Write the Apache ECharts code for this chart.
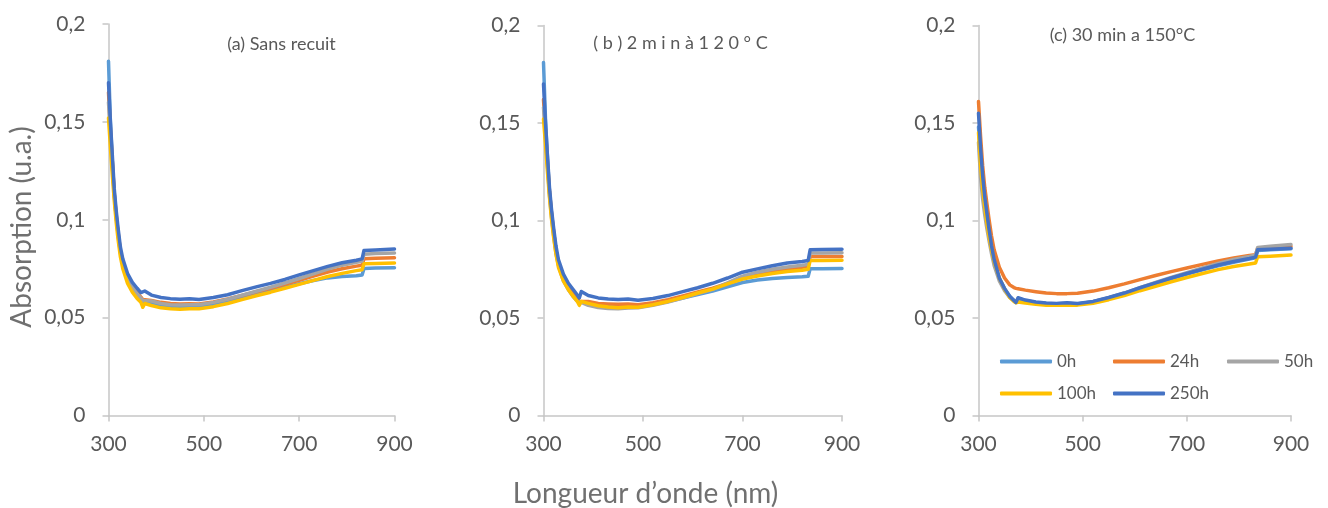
<!DOCTYPE html>
<html><head><meta charset="utf-8">
<script src="https://cdn.jsdelivr.net/npm/echarts@6/dist/echarts.min.js"></script>
<style>html,body{margin:0;padding:0;background:#fff}#c{width:1328px;height:508px}</style>
</head><body><div id="c"></div>
<script>
const wavelengths = [300,304,308,312,316,320,325,330,340,350,360,368,372,376,390,410,430,450,470,490,520,550,580,610,640,670,700,730,760,790,820,832,836,860,900];

// Panel (a) Sans recuit
const a0h   = [0.181,0.150,0.130,0.113,0.102,0.093,0.083,0.077,0.0695,0.0650,0.0620,0.0598,0.0580,0.0590,0.0572,0.0560,0.0555,0.0553,0.0556,0.0556,0.0566,0.0582,0.0601,0.0620,0.0638,0.0656,0.0673,0.0690,0.0703,0.0710,0.0714,0.0718,0.0751,0.0753,0.0755];
const a24h  = [0.165,0.146,0.130,0.114,0.103,0.094,0.084,0.078,0.0705,0.0660,0.0628,0.0605,0.0592,0.0598,0.0588,0.0578,0.0572,0.0570,0.0571,0.0570,0.0580,0.0595,0.0613,0.0632,0.0650,0.0670,0.0690,0.0712,0.0733,0.0750,0.0763,0.0768,0.0801,0.0803,0.0806];
const a50h  = [0.160,0.143,0.128,0.113,0.102,0.093,0.084,0.0775,0.0700,0.0655,0.0622,0.0600,0.0588,0.0595,0.0585,0.0572,0.0566,0.0564,0.0566,0.0566,0.0578,0.0594,0.0614,0.0635,0.0655,0.0677,0.0700,0.0724,0.0748,0.0768,0.0783,0.0788,0.0824,0.0827,0.0830];
const a100h = [0.152,0.137,0.123,0.110,0.099,0.090,0.081,0.075,0.0675,0.0630,0.0598,0.0578,0.0553,0.0572,0.0562,0.0550,0.0545,0.0543,0.0545,0.0545,0.0556,0.0572,0.0592,0.0612,0.0630,0.0650,0.0670,0.0690,0.0710,0.0726,0.0740,0.0745,0.0775,0.0777,0.0779];
const a250h = [0.170,0.150,0.133,0.116,0.105,0.096,0.086,0.080,0.0725,0.0680,0.0650,0.0628,0.0618,0.0636,0.0615,0.0603,0.0597,0.0594,0.0597,0.0593,0.0603,0.0617,0.0638,0.0657,0.0675,0.0695,0.0718,0.0740,0.0762,0.0780,0.0793,0.0800,0.0843,0.0846,0.0850];

// Panel (b) 2 min à 120°C
const b0h   = [0.181,0.152,0.132,0.115,0.104,0.095,0.085,0.078,0.0705,0.0660,0.0622,0.0598,0.0582,0.0592,0.0578,0.0567,0.0562,0.0560,0.0563,0.0561,0.0570,0.0585,0.0602,0.0620,0.0638,0.0660,0.0682,0.0695,0.0703,0.0708,0.0711,0.0714,0.0752,0.0753,0.0754];
const b24h  = [0.162,0.146,0.130,0.115,0.104,0.095,0.085,0.078,0.0705,0.0660,0.0625,0.0598,0.0585,0.0595,0.0585,0.0575,0.0572,0.0570,0.0572,0.0568,0.0578,0.0594,0.0613,0.0633,0.0653,0.0678,0.0705,0.0722,0.0738,0.0750,0.0760,0.0765,0.0816,0.0815,0.0815];
const b50h  = [0.158,0.143,0.128,0.113,0.102,0.093,0.083,0.077,0.0690,0.0645,0.0608,0.0585,0.0575,0.0580,0.0565,0.0554,0.0549,0.0548,0.0551,0.0553,0.0565,0.0582,0.0602,0.0625,0.0647,0.0680,0.0715,0.0735,0.0750,0.0762,0.0770,0.0775,0.0833,0.0833,0.0834];
const b100h = [0.152,0.139,0.125,0.112,0.101,0.092,0.083,0.076,0.0690,0.0645,0.0610,0.0585,0.0565,0.0585,0.0575,0.0563,0.0556,0.0553,0.0556,0.0555,0.0568,0.0585,0.0605,0.0628,0.0648,0.0675,0.0700,0.0715,0.0728,0.0738,0.0745,0.0750,0.0795,0.0795,0.0796];
const b250h = [0.170,0.150,0.133,0.117,0.106,0.097,0.087,0.080,0.0725,0.0678,0.0645,0.0618,0.0603,0.0636,0.0615,0.0603,0.0598,0.0595,0.0597,0.0591,0.0600,0.0615,0.0635,0.0655,0.0678,0.0705,0.0735,0.0752,0.0768,0.0782,0.0790,0.0795,0.0850,0.0851,0.0853];

// Panel (c) 30 min a 150°C
const c0h   = [0.148,0.133,0.120,0.110,0.102,0.095,0.086,0.079,0.0700,0.0648,0.0610,0.0590,0.0580,0.0600,0.0590,0.0580,0.0575,0.0573,0.0576,0.0572,0.0583,0.0603,0.0626,0.0652,0.0677,0.0702,0.0725,0.0747,0.0768,0.0786,0.0802,0.0809,0.0846,0.0850,0.0855];
const c24h  = [0.161,0.143,0.128,0.117,0.109,0.101,0.092,0.085,0.0760,0.0705,0.0670,0.0656,0.0652,0.0650,0.0643,0.0635,0.0628,0.0625,0.0625,0.0627,0.0638,0.0655,0.0675,0.0697,0.0718,0.0738,0.0756,0.0775,0.0793,0.0808,0.0820,0.0825,0.0858,0.0862,0.0868];
const c50h  = [0.140,0.122,0.111,0.103,0.096,0.090,0.083,0.077,0.0690,0.0640,0.0605,0.0590,0.0585,0.0590,0.0585,0.0577,0.0572,0.0570,0.0572,0.0572,0.0584,0.0604,0.0628,0.0655,0.0682,0.0708,0.0733,0.0757,0.0780,0.0800,0.0815,0.0822,0.0862,0.0868,0.0877];
const c100h = [0.145,0.128,0.116,0.107,0.099,0.092,0.085,0.079,0.0705,0.0650,0.0605,0.0585,0.0578,0.0582,0.0577,0.0570,0.0566,0.0565,0.0567,0.0566,0.0576,0.0594,0.0615,0.0640,0.0663,0.0686,0.0708,0.0728,0.0748,0.0764,0.0777,0.0782,0.0814,0.0817,0.0823];
const c250h = [0.155,0.137,0.123,0.112,0.104,0.096,0.087,0.080,0.0705,0.0652,0.0612,0.0590,0.0580,0.0604,0.0592,0.0582,0.0577,0.0575,0.0578,0.0574,0.0585,0.0605,0.0628,0.0655,0.0680,0.0705,0.0728,0.0750,0.0772,0.0790,0.0805,0.0812,0.0850,0.0853,0.0858];

const seriesNames = ['0h','24h','50h','100h','250h'];
const seriesColors = ['#5B9BD5','#ED7D31','#A5A5A5','#FFC000','#4472C4'];
const panelData = [[a0h,a24h,a50h,a100h,a250h],[b0h,b24h,b50h,b100h,b250h],[c0h,c24h,c50h,c100h,c250h]];
const panelTitles = ['(a) Sans recuit','( b ) 2 m i n à 1 2 0 ° C','(c) 30 min a 150°C'];
const xTicks = [300,500,700,900];
const yTickLabels = ['0','0,05','0,1','0,15','0,2'];
const xTitle = 'Longueur d\u2019onde (nm)';
const yTitle = 'Absorption (u.a.)';

const FONT = 'Lato, "Open Sans", sans-serif';
const AX = '#C6C6C6';
const TXT = '#595959';

const grids = [
  {left:108.5, top:24,   width:286,   height:391.5},
  {left:543.5, top:25.5, width:298.5, height:390},
  {left:978.5, top:25.5, width:312.5, height:390}
];
const titlePos = [[281.5,44],[680.5,43],[1122.5,35]];

const xAxes = [], yAxes = [], series = [], graphics = [];
grids.forEach((g, i) => {
  xAxes.push({
    type:'value', gridIndex:i, min:300, max:900,
    axisLine:{show:true, lineStyle:{color:AX, width:1.5}},
    axisTick:{show:true, length:6, lineStyle:{color:AX, width:1.5}, customValues:xTicks},
    axisLabel:{customValues:xTicks, margin:18, fontSize:21, color:TXT, fontFamily:FONT},
    splitLine:{show:false}
  });
  yAxes.push({
    type:'value', gridIndex:i, min:0, max:0.2, interval:0.05,
    axisLine:{show:true, lineStyle:{color:AX, width:1.5}},
    axisTick:{show:true, length:6, lineStyle:{color:AX, width:1.5}},
    axisLabel:{margin:23, fontSize:21, color:TXT, fontFamily:FONT,
      formatter: v => yTickLabels[Math.round(v/0.05)]},
    splitLine:{show:false}
  });
  panelData[i].forEach((vals, k) => {
    series.push({
      type:'line', name:seriesNames[k], xAxisIndex:i, yAxisIndex:i,
      data: wavelengths.map((w, j) => [w, vals[j]]),
      symbol:'none', showSymbol:false, smooth:false,
      lineStyle:{color:seriesColors[k], width:3.5, join:'round', cap:'round'},
      itemStyle:{color:seriesColors[k]},
      emphasis:{disabled:true}, animation:false
    });
  });
  graphics.push({
    type:'text', x:titlePos[i][0], y:titlePos[i][1],
    style:{text:panelTitles[i], fill:TXT, font:'18px ' + FONT, textAlign:'center', textVerticalAlign:'middle'}
  });
});
graphics.push({
  type:'text', x:645.5, y:494,
  style:{text:xTitle, fill:'#707070', font:'28px ' + FONT, textAlign:'center', textVerticalAlign:'middle'}
});
graphics.push({
  type:'text', x:22, y:227, rotation:Math.PI/2,
  style:{text:yTitle, fill:'#707070', font:'28px ' + FONT, textAlign:'center', textVerticalAlign:'middle'}
});

const legendPos = [[1000,353],[1113,353],[1227,353],[1000,385],[1113,385]];
const legends = seriesNames.map((n, k) => ({
  data:[n], left:legendPos[k][0], top:legendPos[k][1], padding:0,
  icon:'roundRect', itemWidth:52, itemHeight:4,
  selectedMode:false,
  textStyle:{fontSize:17, color:TXT, fontFamily:FONT}
}));

const chart = echarts.init(document.getElementById('c'), null, {renderer:'canvas'});
chart.setOption({
  animation:false,
  backgroundColor:'#fff',
  grid:grids, xAxis:xAxes, yAxis:yAxes, series:series,
  legend:legends, graphic:graphics
});
</script></body></html>
